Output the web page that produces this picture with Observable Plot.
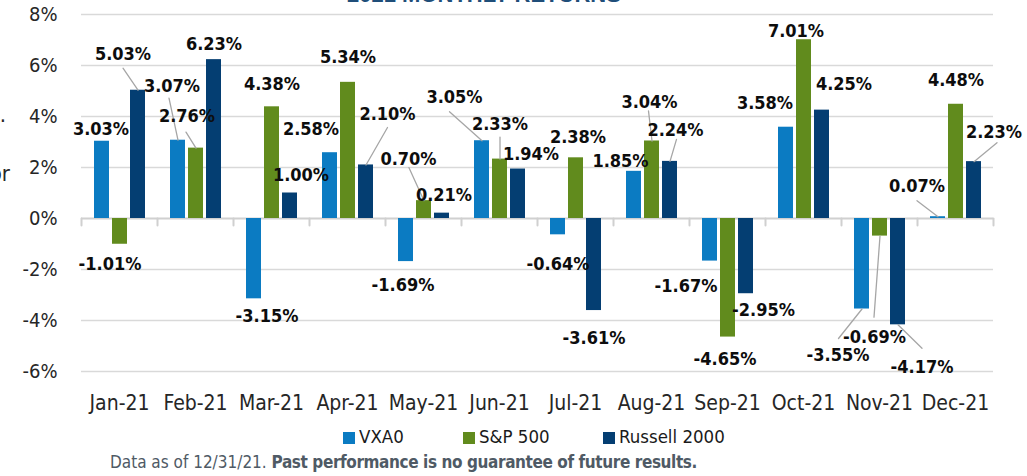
<!DOCTYPE html>
<html>
<head>
<meta charset="utf-8">
<script src="https://cdn.jsdelivr.net/npm/d3@7"></script>
<script src="https://cdn.jsdelivr.net/npm/@observablehq/plot@0.6"></script>
<style>
  html, body { margin: 0; padding: 0; background: #fff; }
  body { width: 1027px; height: 476px; overflow: hidden; position: relative;
         font-family: "DejaVu Sans Condensed", "DejaVu Sans", sans-serif; font-stretch: condensed; }
  #chart svg { display: block; }
  .title { position: absolute; top: -16px; left: 347px; white-space: nowrap;
           font: bold 22px/22px "Liberation Sans", Arial, sans-serif; color: #1f4e79; }
  .frag { position: absolute; white-space: nowrap; font-size: 22px; line-height: 22px; color: #262626; }
  .legend { position: absolute; top: 424px; left: 0; width: 1027px; height: 26px; }
  .item { position: absolute; top: 0; height: 26px; line-height: 26px; font-size: 18.5px; color: #1a1a1a; white-space: nowrap; }
  .sw { display: inline-block; width: 12px; height: 12px; margin-right: 4px; vertical-align: -1px; }
  .footer { position: absolute; top: 451px; left: 110px; white-space: nowrap; font-size: 17px; line-height: 22px; color: #4f5a65; }
  .footer b { font-weight: bold; letter-spacing: -0.4px; }
</style>
</head>
<body>
<div id="chart"></div>
<div class="title" id="title"></div>
<div class="frag" style="top:104px; right:1021px">s.</div>
<div class="frag" style="top:163px; right:1017px">for</div>
<div class="legend" id="legend"></div>
<div class="footer">Data as of 12/31/21. <b>Past performance is no guarantee of future results.</b></div>
<script>
// ---- data ----
const title = "2021 MONTHLY RETURNS";
const months = ["Jan-21","Feb-21","Mar-21","Apr-21","May-21","Jun-21","Jul-21","Aug-21","Sep-21","Oct-21","Nov-21","Dec-21"];
const series = ["VXA0", "S&P 500", "Russell 2000"];
const vxa0    = [3.03, 3.07, -3.15, 2.58, -1.69, 3.05, -0.64, 1.85, -1.67, 3.58, -3.55, 0.07];
const sp500   = [-1.01, 2.76, 4.38, 5.34, 0.70, 2.33, 2.38, 3.04, -4.65, 7.01, -0.69, 4.48];
const russell = [5.03, 6.23, 1.00, 2.10, 0.21, 1.94, -3.61, 2.24, -2.95, 4.25, -4.17, 2.23];
const yTicks = [-6, -4, -2, 0, 2, 4, 6, 8];
const colors = ["#0b7bc2", "#618b1d", "#043e72"];

// ---- label layout (pixel offsets of each label from its bar end) ----
const labelOffsets = [
  [[-1,-12],[-6,-54],[13,17],[-19,-23],[-3,24],[-27.5,-43],[0,29],[-13.5,-10],[-24,25],[-21,-24],[-24,46.5],[-21,-30.5]],
  [[-10,20],[-9,-32],[0,-22.5],[0,-25],[-15.5,-41],[0,-35],[2,-21],[-2.5,-39],[-3,22.5],[-8,-9],[-5.5,101],[0,-24]],
  [[-15,-36],[0,-15],[11,-17.5],[21.5,-51],[2,-17.5],[13,-15],[0,28],[5.5,-31],[17.5,17],[22,-26],[24,42.5],[20,-29.5]]
];
// leader line start (pixel offset from bar end), null = none
const leaderOffsets = [
  [null,[-9,-42],null,null,null,[-32.5,-29],null,null,null,null,[-23.5,29.5],[-21,-16]],
  [null,[-10,-16],null,null,[-15,-33],[0,-22],null,[-3.5,-30],null,null,[-6,81],null],
  [[-15,-22],null,null,[21.5,-37.5],null,null,null,[6.5,-22],null,null,[24,23.5],[23,-19]]
];

const valuesBySeries = [vxa0, sp500, russell];
const rows = [];
months.forEach((m, i) => series.forEach((s, k) => rows.push({month: m, series: s, value: valuesBySeries[k][i], k, i})));
const fmt = v => v.toFixed(2) + "%";

const lineShape = { draw(context, l) { context.moveTo(0, 0); context.lineTo(0, -l); } };

const leaderMarks = rows.filter(r => leaderOffsets[r.k][r.i]).map(r => {
  const [lx, ly] = leaderOffsets[r.k][r.i];
  return Plot.vector([r], {
    fx: "month", x: "series", y: "value",
    length: Math.hypot(lx, ly), rotate: Math.atan2(lx, -ly) * 180 / Math.PI,
    anchor: "start", shape: lineShape, stroke: "#a6a6a6", strokeWidth: 1.3
  });
});

const labelMarks = rows.map(r => {
  const [ox, oy] = labelOffsets[r.k][r.i];
  return Plot.text([r], {
    fx: "month", x: "series", y: "value", text: d => fmt(d.value),
    dx: ox, dy: oy, lineAnchor: "middle", textAnchor: "middle",
    fontSize: 18, fontWeight: "bold", fill: "#0d0d0d"
  });
});

const chart = Plot.plot({
  width: 1027,
  height: 424,
  marginLeft: 76,
  marginRight: 30,
  marginTop: 14,
  marginBottom: 53,
  style: { fontFamily: '"DejaVu Sans Condensed", "DejaVu Sans", sans-serif', fontStretch: "condensed", fontSize: "20px", color: "#262626", background: "#fff", overflow: "visible" },
  fx: { domain: months, padding: 0, label: null },
  x: { domain: series, paddingInner: 0.19, paddingOuter: 0.6, axis: null },
  y: { domain: [-6, 8], label: null },
  color: { domain: series, range: colors },
  marks: [
    Plot.ruleY(yTicks.filter(t => t !== 0), { stroke: "#d9d9d9", strokeWidth: 1.5 }),
    Plot.ruleY([0], { stroke: "#d0d0d0", strokeWidth: 2 }),
    Plot.vector([0], { y: d => d, frameAnchor: "left", length: 7, rotate: 180, anchor: "start", shape: lineShape, stroke: "#d0d0d0", strokeWidth: 2 }),
    Plot.vector([months[months.length - 1]], { fx: d => d, y: () => 0, frameAnchor: "right", length: 7, rotate: 180, anchor: "start", shape: lineShape, stroke: "#d0d0d0", strokeWidth: 2 }),
    Plot.barY(rows, { fx: "month", x: "series", y: "value", fill: "series" }),
    ...leaderMarks,
    ...labelMarks,
    Plot.axisY({ ticks: yTicks, tickFormat: d => d + "%", tickSize: 0, tickPadding: 24, fontSize: 20, label: null }),
    Plot.axisFx({ anchor: "bottom", tickSize: 0, tickPadding: 24, fontSize: 21, label: null })
  ]
});
document.getElementById("chart").appendChild(chart);
document.getElementById("title").textContent = title;

// legend
const legendLefts = [343, 463, 603];
const legend = d3.select("#legend");
series.forEach((s, k) => {
  const it = legend.append("div").attr("class", "item").style("left", legendLefts[k] + "px");
  it.append("span").attr("class", "sw").style("background", colors[k]);
  it.append("span").text(s);
});
</script>
</body>
</html>
